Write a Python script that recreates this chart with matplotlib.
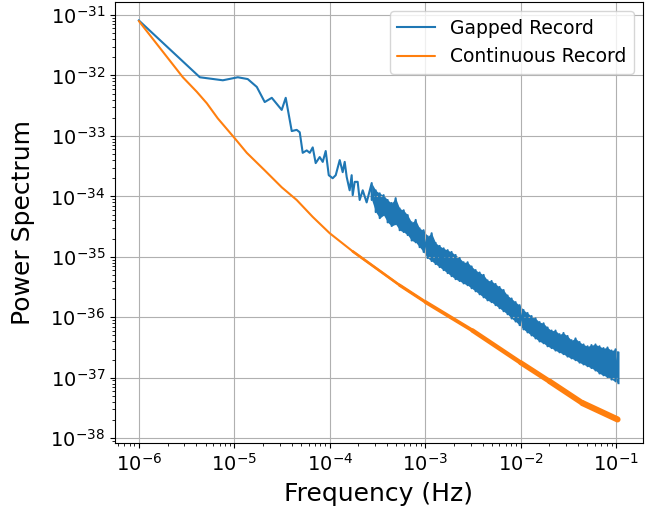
import numpy as np
import matplotlib
matplotlib.use("Agg")
import matplotlib.pyplot as plt

# ---- data (log10 values) ----
# Gapped record: sparse low-frequency part
gap_logf = [-6.000, -5.361, -5.120, -4.963, -4.859, -4.764, -4.681, -4.607, -4.503, -4.461,
            -4.398, -4.346, -4.314, -4.283, -4.241, -4.209, -4.178, -4.147, -4.105, -4.073,
            -4.042, -4.010, -3.969, -3.937, -3.895, -3.864, -3.843, -3.822, -3.791, -3.770,
            -3.759, -3.738, -3.707, -3.686, -3.654, -3.613]
gap_logp = [-31.09, -32.03, -32.08, -32.03, -32.06, -32.19, -32.44, -32.37, -32.57, -32.37,
            -32.92, -32.90, -32.94, -33.28, -33.24, -33.28, -33.19, -33.45, -33.35, -33.43,
            -33.25, -33.65, -33.70, -33.65, -33.40, -33.60, -33.43, -33.68, -33.90, -33.65,
            -33.98, -33.76, -33.76, -34.06, -33.90, -34.10]

# Gapped record: dense noisy part (upper / lower excursions)
band_logf = [-3.560, -3.518, -3.476, -3.435, -3.393, -3.351, -3.309, -3.267, -3.225, -3.183,
             -3.141, -3.099, -3.058, -3.016, -2.974, -2.932, -2.890, -2.848, -2.806, -2.764,
             -2.723, -2.681, -2.639, -2.597, -2.555, -2.513, -2.471, -2.429, -2.387, -2.346,
             -2.304, -2.262, -2.220, -2.178, -2.136, -2.094, -2.052, -2.010, -1.969, -1.927,
             -1.885, -1.843, -1.801, -1.759, -1.717, -1.675, -1.634, -1.592, -1.550, -1.508,
             -1.466, -1.424, -1.382, -1.340, -1.298, -1.257, -1.215, -1.173, -1.131, -1.089,
             -1.047, -1.005, -0.974]
band_hi = [-33.78, -33.90, -33.95, -33.98, -34.06, -34.11, -34.03, -34.20, -34.23, -34.31,
           -34.43, -34.39, -34.53, -34.56, -34.66, -34.61, -34.77, -34.82, -34.86, -34.89,
           -34.92, -34.97, -35.02, -35.09, -35.09, -35.16, -35.22, -35.26, -35.30, -35.39,
           -35.40, -35.45, -35.50, -35.55, -35.64, -35.69, -35.75, -35.80, -35.88, -35.93,
           -35.98, -36.02, -36.08, -36.10, -36.17, -36.22, -36.22, -36.28, -36.26, -36.31,
           -36.38, -36.35, -36.41, -36.45, -36.48, -36.46, -36.45, -36.48, -36.51, -36.50,
           -36.55, -36.53, -36.58]
band_lo = [-34.06, -34.26, -34.36, -34.31, -34.43, -34.49, -34.46, -34.56, -34.59, -34.64,
           -34.73, -34.76, -34.84, -34.92, -35.02, -35.07, -35.12, -35.17, -35.22, -35.27,
           -35.32, -35.37, -35.40, -35.44, -35.47, -35.52, -35.57, -35.62, -35.67, -35.72,
           -35.75, -35.80, -35.85, -35.90, -35.95, -36.02, -36.07, -36.13, -36.20, -36.25,
           -36.30, -36.35, -36.40, -36.43, -36.48, -36.51, -36.55, -36.58, -36.61, -36.65,
           -36.68, -36.71, -36.75, -36.78, -36.81, -36.84, -36.88, -36.93, -36.96, -36.99,
           -37.03, -37.06, -37.09]

# Continuous record
cont_logf = [-6.000, -5.539, -5.393, -5.288, -5.173, -4.995, -4.869, -4.681, -4.503, -4.346,
             -4.178, -4.000, -3.759, -3.267, -2.995, -2.503, -2.000, -1.696, -1.351, -0.984]
cont_logp = [-31.10, -32.03, -32.27, -32.46, -32.71, -33.04, -33.28, -33.57, -33.85, -34.06,
             -34.34, -34.61, -34.91, -35.47, -35.75, -36.22, -36.75, -37.06, -37.42, -37.69]

series_labels = ["Gapped Record", "Continuous Record"]
x_major = [1e-6, 1e-5, 1e-4, 1e-3, 1e-2, 1e-1]
y_major = [1e-38, 1e-37, 1e-36, 1e-35, 1e-34, 1e-33, 1e-32, 1e-31]

# ---- build series ----
blue = "#1f77b4"
orange = "#ff7f0e"
g_f = np.concatenate([gap_logf, np.repeat(band_logf, 2)])
g_p = np.concatenate([gap_logp, np.column_stack([band_hi, band_lo]).ravel()])
gap_f = 10.0 ** g_f
gap_p = 10.0 ** g_p
bf = 10.0 ** np.array(band_logf)
bhi = 10.0 ** np.array(band_hi)
blo = 10.0 ** np.array(band_lo)
cont_f = 10.0 ** np.array(cont_logf)
cont_p = 10.0 ** np.array(cont_logp)

fig = plt.figure(figsize=(6.64, 5.13), dpi=100)
ax = fig.add_axes([115 / 664, 1 - 443 / 513, (643 - 115) / 664, (443 - 2) / 513])

ax.loglog(gap_f, gap_p, color=blue, lw=1.5, label=series_labels[0])
ax.fill_between(bf, bhi, blo, color=blue, lw=0)
ax.loglog(cont_f, cont_p, color=orange, lw=1.5, label=series_labels[1],
          solid_capstyle="round", solid_joinstyle="round")
# continuous record looks thicker at high frequency (dense points)
lf = np.array(cont_logf)
for i in range(len(cont_f) - 1):
    mid = 0.5 * (lf[i] + lf[i + 1])
    if mid > -3.8:
        w = float(np.interp(mid, [-3.8, -1.0], [1.6, 4.6]))
        ax.plot(cont_f[i:i + 2], cont_p[i:i + 2], color=orange, lw=w,
                solid_capstyle="round", solid_joinstyle="round")

ax.set_xlim(10 ** -6.25, 10 ** -0.717)
ax.set_ylim(10 ** -38.08, 10 ** -30.785)
ax.set_xticks(x_major)
ax.set_yticks(y_major)
ax.grid(True, which="major", color="#b0b0b0", lw=0.8)
ax.set_xlabel("Frequency (Hz)", fontsize=18, labelpad=5.5)
ax.set_ylabel("Power Spectrum", fontsize=18, labelpad=11)
ax.tick_params(axis="both", which="major", labelsize=14)
ax.legend(loc="upper right", fontsize=13.5)

fig.savefig("out.png", dpi=100)
